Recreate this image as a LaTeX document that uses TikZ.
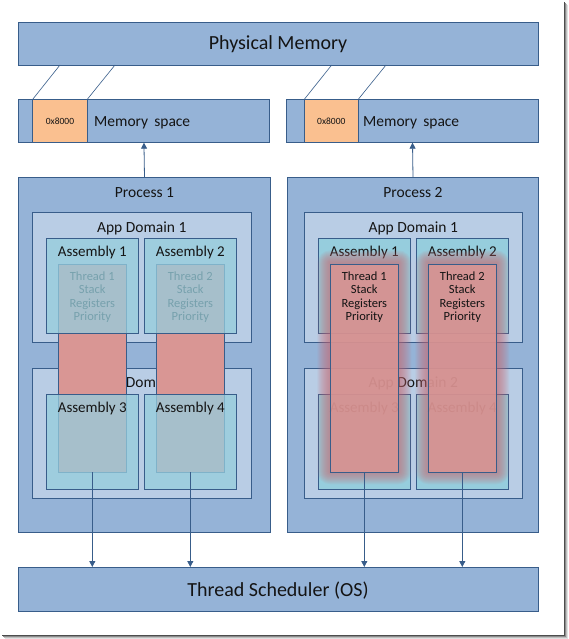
\documentclass[tikz,border=0pt]{standalone}
\usepackage{fontspec}
\setmainfont{Carlito}
\usetikzlibrary{arrows.meta}
\definecolor{bdr}{RGB}{56,93,138}
\definecolor{procfill}{RGB}{149,179,215}
\definecolor{appfill}{RGB}{185,205,229}
\definecolor{asmfill}{RGB}{150,205,221}
\definecolor{thrfill}{RGB}{217,150,148}
\definecolor{orgfill}{RGB}{250,192,144}
\definecolor{glowc}{RGB}{205,105,112}
\definecolor{txt}{RGB}{20,20,20}
\tikzset{
  bx/.style={draw=bdr, line width=0.9pt, inner sep=0pt, outer sep=0pt, anchor=north west},
  lbl/.style={inner sep=0pt, anchor=base, text=txt},
  arr/.style={draw=bdr, line width=0.8pt, -{Triangle[length=6pt,width=6pt]}},
  thin/.style={draw=bdr, line width=0.6pt},
}
\newcommand\mybox[6]{\node[bx,#6,minimum width=#4pt,minimum height=#5pt] (#1) at (#2,#3) {};}
\begin{document}
\begin{tikzpicture}[x=1pt,y=-1pt]
\useasboundingbox (0,0) rectangle (569,639);
\fill[white] (0,0) rectangle (569,639);
% frame shadow
\foreach \d/\c in {3/12,2/25,1/45,0/70} {
  \draw[line width=1pt, color=black!\c] (564.5+\d,2+\d) -- (564.5+\d,635+\d) -- (2+\d,635+\d);
}
% physical memory
\mybox{phys}{18}{22}{520}{43}{fill=procfill}
\node[lbl, font=\fontsize{20}{24}\selectfont] (physl) at (278,50) {Physical Memory};
% memory spaces
\mybox{mem1}{18.3}{99.3}{251.3}{43.4}{fill=procfill}
\mybox{mem2}{286.7}{99.3}{251.6}{43.4}{fill=procfill}
\mybox{org1}{32.7}{99.3}{54.6}{43.4}{fill=orgfill}
\mybox{org2}{304.3}{99.3}{54}{43.4}{fill=orgfill}
\node[lbl, font=\fontsize{9.5}{11}\selectfont] (o1l) at (60,125) {0x8000};
\node[lbl, font=\fontsize{9.5}{11}\selectfont] (o2l) at (331.3,125) {0x8000};
\node[lbl, anchor=base west, font=\fontsize{15.5}{18}\selectfont] (m1l) at (94,126.5) {Memory\, space};
\node[lbl, anchor=base west, font=\fontsize{15.5}{18}\selectfont] (m2l) at (363,126.5) {Memory\, space};
\coordinate (pa) at (60,65);
\coordinate (pb) at (115,65);
\coordinate (pc) at (331.7,65);
\coordinate (pd) at (386,65);
\draw[thin] (org1.north west) -- (pa);
\draw[thin] (org1.north east) -- (pb);
\draw[thin] (org2.north west) -- (pc);
\draw[thin] (org2.north east) -- (pd);
% processes
\mybox{proc1}{18.3}{177.5}{252.4}{355}{fill=procfill}
\mybox{proc2}{287.7}{177.5}{250.6}{355}{fill=procfill}
\node[lbl, font=\fontsize{15.5}{18}\selectfont] (p1l) at (144.5,197.7) {Process 1};
\node[lbl, font=\fontsize{15.5}{18}\selectfont] (p2l) at (413,197.7) {Process 2};
% ---------- Process 1 ----------
\mybox{ad11}{32.3}{212.3}{219}{130}{fill=appfill}
\mybox{ad12}{32.3}{368.3}{219}{130}{fill=appfill}
\node[lbl, font=\fontsize{15.5}{18}\selectfont] (ad11l) at (141.8,232.7) {App Domain 1};
\node[lbl, font=\fontsize{15.5}{18}\selectfont] (ad12l) at (141.8,387.3) {App Domain 2};
\mybox{t11}{58.3}{264.3}{68}{208}{fill=thrfill}
\mybox{t12}{156.3}{264.3}{68}{208}{fill=thrfill}
\foreach \n/\cx/\k in {t11/92.3/1, t12/190.3/2} {
  \node[lbl, font=\fontsize{12.5}{14}\selectfont] (\n a) at (\cx,280) {Thread \k};
  \node[lbl, font=\fontsize{12.5}{14}\selectfont] (\n b) at (\cx,293.6) {Stack};
  \node[lbl, font=\fontsize{12.5}{14}\selectfont] (\n c) at (\cx,307.2) {Registers};
  \node[lbl, font=\fontsize{12.5}{14}\selectfont] (\n d) at (\cx,320.8) {Priority};
}
\mybox{a11}{46.3}{238.3}{92}{95}{fill=asmfill, fill opacity=0.76}
\mybox{a12}{144.3}{238.3}{92}{95}{fill=asmfill, fill opacity=0.76}
\mybox{a13}{46.3}{394.3}{92}{95}{fill=asmfill, fill opacity=0.76}
\mybox{a14}{144.3}{394.3}{92}{95}{fill=asmfill, fill opacity=0.76}
\node[lbl, font=\fontsize{15}{18}\selectfont] (a11l) at (92.3,256.7) {Assembly 1};
\node[lbl, font=\fontsize{15}{18}\selectfont] (a12l) at (190.3,256.7) {Assembly 2};
\node[lbl, font=\fontsize{15}{18}\selectfont] (a13l) at (92.3,412.7) {Assembly 3};
\node[lbl, font=\fontsize{15}{18}\selectfont] (a14l) at (190.3,412.7) {Assembly 4};
% ---------- Process 2 ----------
\mybox{ad21}{304.3}{212.3}{218}{130}{fill=appfill}
\mybox{ad22}{304.3}{368.3}{218}{130}{fill=appfill}
\node[lbl, font=\fontsize{15.5}{18}\selectfont] (ad21l) at (413.3,232.7) {App Domain 1};
\node[lbl, font=\fontsize{15.5}{18}\selectfont] (ad22l) at (413.3,387.3) {App Domain 2};
\mybox{a21}{318.3}{238.3}{92}{95}{fill=asmfill}
\mybox{a22}{416.3}{238.3}{92}{95}{fill=asmfill}
\mybox{a23}{318.3}{394.3}{92}{95}{fill=asmfill}
\mybox{a24}{416.3}{394.3}{92}{95}{fill=asmfill}
\node[lbl, font=\fontsize{15}{18}\selectfont] (a21l) at (364.3,256.7) {Assembly 1};
\node[lbl, font=\fontsize{15}{18}\selectfont] (a22l) at (462.3,256.7) {Assembly 2};
\node[lbl, font=\fontsize{15}{18}\selectfont] (a23l) at (364.3,412.7) {Assembly 3};
\node[lbl, font=\fontsize{15}{18}\selectfont] (a24l) at (462.3,412.7) {Assembly 4};
\path (330.3,264.3) coordinate (g1a) (398.3,472.3) coordinate (g1b)
      (428.3,264.3) coordinate (g2a) (496.3,472.3) coordinate (g2b);
\foreach \i in {1,...,13} {
  \fill[glowc, fill opacity=0.07, rounded corners=\i pt] ([shift={(-\i,-\i-1)}]g1a) rectangle ([shift={(\i,\i-1)}]g1b);
  \fill[glowc, fill opacity=0.07, rounded corners=\i pt] ([shift={(-\i,-\i-1)}]g2a) rectangle ([shift={(\i,\i-1)}]g2b);
}
\mybox{t21}{330.3}{264.3}{68}{208}{fill=thrfill, fill opacity=0.85}
\mybox{t22}{428.3}{264.3}{68}{208}{fill=thrfill, fill opacity=0.85}
\foreach \n/\cx/\k in {t21/364.3/1, t22/462.3/2} {
  \node[lbl, font=\fontsize{12.5}{14}\selectfont] (\n a) at (\cx,280) {Thread \k};
  \node[lbl, font=\fontsize{12.5}{14}\selectfont] (\n b) at (\cx,293.6) {Stack};
  \node[lbl, font=\fontsize{12.5}{14}\selectfont] (\n c) at (\cx,307.2) {Registers};
  \node[lbl, font=\fontsize{12.5}{14}\selectfont] (\n d) at (\cx,320.8) {Priority};
}
% scheduler
\mybox{sched}{18}{567}{520}{44}{fill=procfill}
\node[lbl, font=\fontsize{20}{24}\selectfont] (schedl) at (278,596.7) {Thread Scheduler (OS)};
% arrows
\draw[arr] (proc1.north) -- (mem1.south);
\draw[arr] (proc2.north) -- (mem2.south);
\foreach \t in {t11,t12,t21,t22} {
  \draw[arr] (\t.south) -- (\t.south |- sched.north);
}
\end{tikzpicture}
\end{document}
